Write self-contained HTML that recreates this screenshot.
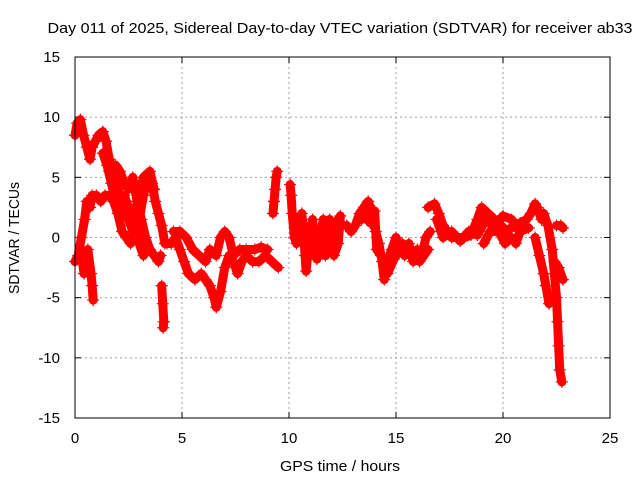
<!DOCTYPE html>
<html><head><meta charset="utf-8"><style>
body{margin:0;background:#fff}
svg{display:block;font-family:"Liberation Sans",sans-serif}
</style></head><body>
<svg id="chart" width="640" height="480">
<rect width="640" height="480" fill="#fff"/>
<text x="340" y="33" font-size="15" text-anchor="middle" textLength="585" lengthAdjust="spacingAndGlyphs">Day 011 of 2025, Sidereal Day-to-day VTEC variation (SDTVAR) for receiver ab33</text>
<text x="340" y="471" font-size="15" text-anchor="middle" textLength="120" lengthAdjust="spacingAndGlyphs">GPS time / hours</text>
<text transform="translate(19,238) rotate(-90)" font-size="15" text-anchor="middle" textLength="112" lengthAdjust="spacingAndGlyphs">SDTVAR / TECUs</text>
<g id="grid"></g><g id="ticks"></g><g id="marks"></g>
<rect x="75" y="57" width="535" height="361" fill="none" stroke="#000" stroke-width="1"/>
</svg>
<script>
const xTicks=[0,5,10,15,20,25];
const yTicks=[-15,-10,-5,0,5,10,15];
const segUpper=[[0,8.5],[0.1,9.5],[0.25,9.8],[0.4,8.5],[0.55,7.5],[0.7,6.5],[0.8,7.5],[0.95,8],[1.1,8.5],[1.3,8.8],[1.45,8],[1.6,6.5],[1.8,5.5],[2.0,4],[2.2,3],[2.4,2],[2.6,1],[2.8,0],[3.0,1.5],[3.2,3.5],[3.4,5],[3.6,4.5],[3.75,3],[3.9,2],[4.05,1],[4.2,-0.5]];
const segUpper2=[[1.6,5.5],[1.9,6],[2.1,5.5],[2.3,4.5],[2.5,4],[2.7,5],[2.9,3],[3.1,1.5],[3.3,0],[3.5,-1],[3.7,-1.5],[3.9,-2],[4.0,-1.5]];
const segUpper3=[[1.3,7],[1.5,6],[1.7,4.5],[1.9,3],[2.1,2.5],[2.3,3.5],[2.5,2.5],[2.7,1.5],[3.0,3.5],[3.2,5],[3.5,5.5],[3.7,4]];
const segLower=[[0,-2],[0.15,-1.5],[0.3,0],[0.45,1.5],[0.55,3],[0.7,2.5],[0.8,3.5],[1.0,3.5],[1.2,3],[1.4,3.5],[1.6,3.5],[1.8,3],[2.0,2],[2.2,0.5],[2.4,0],[2.6,-0.5],[2.8,0.5],[3.0,-0.5],[3.2,-1.5]];
const segDip1=[[0.35,-2],[0.42,-3],[0.5,-2.5],[0.6,-1],[0.75,-3],[0.8,-4],[0.85,-5.2]];
const segSpike4=[[4.05,-4],[4.1,-5.5],[4.15,-7],[4.12,-7.5]];
const segMidLow=[[4.3,-0.5],[4.5,-0.5],[4.7,0],[4.9,-1],[5.1,-2],[5.3,-3],[5.6,-3.5],[5.9,-3],[6.1,-3.5],[6.3,-4],[6.5,-5],[6.6,-5.8],[6.8,-4.5],[7.0,-2.5],[7.2,-1.5],[7.4,-2],[7.6,-3],[7.8,-2],[8.0,-1.5],[8.3,-2],[8.6,-2],[8.9,-1.5],[9.2,-2],[9.5,-2.5]];
const segMidHigh=[[4.6,0.5],[4.9,0.5],[5.2,0],[5.5,-1],[5.8,-1.5],[6.1,-2],[6.3,-1],[6.6,-1.5],[6.8,0],[7.0,0.5],[7.2,0],[7.4,-1.5],[7.7,-1],[8.0,-1],[8.4,-1],[8.7,-0.8],[9.0,-1]];
const segSpike9=[[9.25,2],[9.3,3],[9.35,4],[9.4,5],[9.45,5.5]];
const segTen=[[10.05,4.4],[10.1,3.5],[10.15,2],[10.25,0],[10.35,-0.5],[10.5,1.5],[10.6,2],[10.7,0],[10.75,-1.5],[10.8,-2.8],[11.0,1],[11.2,0],[11.4,-0.5],[11.6,1.5],[11.8,0],[12.0,-1],[12.1,0],[12.3,1.5],[12.5,1]];
const segTen2=[[10.9,-1.5],[11.1,1.5],[11.3,-1.8],[11.5,0.5],[11.7,-1.5],[11.9,1.5],[12.1,-1.5],[12.3,-0.5],[12.4,1.8]];
const segFourteen=[[12.7,1],[12.9,0.5],[13.1,1],[13.3,2],[13.5,2.5],[13.7,3],[13.9,2],[14.05,0.5],[14.2,-0.5],[14.35,-2],[14.45,-3.5],[14.6,-2],[14.8,-1],[15.0,0],[15.2,-1],[15.4,-1.5],[15.6,-0.5],[15.8,-2],[16.0,-1],[16.2,-1.5],[16.4,0],[16.6,0.5]];
const segFourteen2=[[13.4,1.5],[13.6,1.8],[13.8,1.2],[14.0,2.2],[14.1,-1],[14.3,-1.5],[14.6,-3],[14.9,-1.8],[15.3,-0.5],[15.7,-1.5],[16.1,-2],[16.5,-1]];
const segLate=[[16.5,2.5],[16.8,2.8],[17.0,2],[17.2,1],[17.4,0.5],[17.6,0],[17.9,0],[18.2,0],[18.5,0.2],[18.8,1.5],[19.0,2.5],[19.3,2],[19.6,1.5],[19.9,1],[20.2,0.5],[20.5,1],[20.8,1.2],[21.1,1.5],[21.3,2],[21.5,2.8],[21.6,2.5],[21.8,1.5]];
const segLate2=[[19.1,-0.5],[19.4,0.5],[19.8,0.5],[20.1,-0.5],[20.4,0],[20.6,-0.5],[20.8,0.5]];
const segLate3=[[16.9,1.5],[17.2,0],[17.6,0.5],[18.0,-0.3],[18.4,0.5],[18.8,0.2],[19.2,1.5],[19.6,0.8],[20.0,1.8],[20.4,1.5],[20.8,0.5],[21.2,0.8]];
const segDrop1=[[21.5,0],[21.7,-1.5],[21.9,-3],[22.0,-4],[22.15,-5.5]];
const segDrop2=[[21.9,2],[22.1,1],[22.3,-1],[22.4,-3],[22.5,-5],[22.55,-7],[22.6,-9],[22.65,-11],[22.75,-12]];
const segDrop3=[[22.4,-2],[22.6,-2.5],[22.8,-3.5]];
const segEnd=[[22.5,1],[22.7,1],[22.8,0.8]];
const segments=[segUpper,segUpper2,segUpper3,segLower,segDip1,segSpike4,segMidLow,segMidHigh,segSpike9,segTen,segTen2,segFourteen,segFourteen2,segLate,segLate2,segLate3,segDrop1,segDrop2,segDrop3,segEnd];
const ns="http://www.w3.org/2000/svg";
const L=75,R=610,T=57,B=418;
function xs(t){return L+(t-0)/25*(R-L);}
function ys(v){return B-(v+15)/30*(B-T);}
const grid=document.getElementById('grid'),ticks=document.getElementById('ticks'),marks=document.getElementById('marks');
function mk(tag,attrs,parent){const e=document.createElementNS(ns,tag);for(const k in attrs)e.setAttribute(k,attrs[k]);parent.appendChild(e);return e;}
xTicks.forEach(t=>{
 const x=xs(t);
 if(t>0&&t<25){const g=mk('line',{x1:x,x2:x,y1:T,y2:B,stroke:'#a0a0a0','stroke-dasharray':'2,3'},grid);
 
 }
 const tx=mk('text',{x:x,y:443,'font-size':15,'text-anchor':'middle'},ticks);tx.textContent=t;
 
 
 mk('line',{x1:x,x2:x,y1:B,y2:B-6,stroke:'#000'},ticks);
 mk('line',{x1:x,x2:x,y1:T,y2:T+6,stroke:'#000'},ticks);
});
yTicks.forEach(v=>{
 const y=ys(v);
 if(v>-15&&v<15){const g=mk('line',{x1:L,x2:R,y1:y,y2:y,stroke:'#a0a0a0','stroke-dasharray':'2,3'},grid);
 
 }
 const tx=mk('text',{x:60,y:y+5,'font-size':15,'text-anchor':'end'},ticks);tx.textContent=v;
 
 
 mk('line',{x1:L,x2:L+6,y1:y,y2:y,stroke:'#000'},ticks);
 mk('line',{x1:R,x2:R-6,y1:y,y2:y,stroke:'#000'},ticks);
});
segments.forEach(seg=>{
 const pl=mk('polyline',{points:seg.map(p=>xs(p[0])+','+ys(p[1])).join(' '),fill:'none',stroke:'#f00','stroke-width':9,'stroke-linejoin':'round','stroke-linecap':'round'},marks);
 
 
 seg.forEach(p=>{
  const x=xs(p[0]),y=ys(p[1]);
  const m=mk('path',{d:`M${x-6},${y}h12M${x},${y-6}v12`,stroke:'#f00','stroke-width':1.2},marks);
  
  
 });
});
</script>
</body></html>
